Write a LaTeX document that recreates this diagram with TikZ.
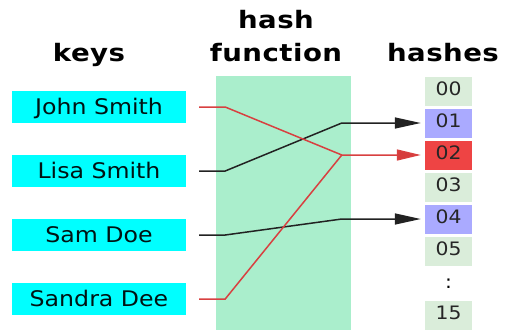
\documentclass[tikz,border=0pt]{standalone}
\usepackage{fontspec}
\setmainfont{DejaVu Sans}
\newfontfamily\headfont[FakeStretch=1.15,LetterSpace=2]{DejaVu Sans Bold}
\newfontfamily\keyfont[FakeStretch=1.1]{DejaVu Sans}
\usetikzlibrary{arrows.meta,calc}
\definecolor{keycyan}{HTML}{00FFFF}
\definecolor{hashgreen}{HTML}{AAEECC}
\definecolor{slotgreen}{HTML}{DAEDDA}
\definecolor{slotblue}{HTML}{AAAAFF}
\definecolor{slotred}{HTML}{EE4444}
\definecolor{linered}{HTML}{D84040}
\definecolor{lineblack}{HTML}{222222}
\begin{document}
\begin{tikzpicture}[x=1pt,y=-1pt,
  heading/.style={font=\headfont\fontsize{24}{28}\selectfont, anchor=base, inner sep=0pt},
  keybox/.style={fill=keycyan, minimum width=174pt, minimum height=32pt, inner sep=0pt,
    font=\keyfont\fontsize{21.5}{24}\selectfont, text height=15.5pt, text depth=0.5pt, text=black!85!teal},
  slot/.style={fill=slotgreen, minimum width=47pt, minimum height=29pt, inner sep=0pt,
    font=\keyfont\fontsize{18.5}{20}\selectfont, text height=13pt, text depth=4pt, text=black!85},
  conn/.style={line width=1.5pt},
  redconn/.style={conn, draw=linered},
  blackconn/.style={conn, draw=lineblack},
  tip/.style={-{Triangle[length=26pt,width=11pt]}}
]
\useasboundingbox (0,0) rectangle (506,330);
\fill[hashgreen] (216,76) rectangle (351,330);

\node[heading] (hkeys) at (89,61) {keys};
\node[heading] (hhash) at (276,28) {hash};
\node[heading] (hfunc) at (276,61) {function};
\node[heading] (hhashes) at (443,61) {hashes};

\node[keybox] (john) at (99,107) {John Smith};
\node[keybox] (lisa) at (99,171) {Lisa Smith};
\node[keybox] (sam) at (99,235) {Sam Doe};
\node[keybox] (sandra) at (99,299) {Sandra Dee};

\node[slot] (h00) at (448.5,91) {00};
\node[slot, fill=slotblue] (h01) at (448.5,123) {01};
\node[slot, fill=slotred] (h02) at (448.5,155) {02};
\node[slot] (h03) at (448.5,187) {03};
\node[slot, fill=slotblue] (h04) at (448.5,219) {04};
\node[slot] (h05) at (448.5,251) {05};
\node[font=\keyfont\fontsize{18.5}{20}\selectfont, inner sep=0pt] (hdots) at (448.5,284) {:};
\node[slot] (h15) at (448.5,315) {15};

\draw[blackconn, tip] ([xshift=13pt]lisa.east) -- ++(26,0) -- ([xshift=-83pt]h01.west) -- ([xshift=-4pt]h01.west);
\draw[blackconn, tip] ([xshift=13pt]sam.east) -- ++(26,0) -- ([xshift=-83pt]h04.west) -- ([xshift=-4pt]h04.west);
\draw[redconn] ([xshift=13pt]sandra.east) -- ++(26,0) -- ([xshift=-83pt]h02.west);
\draw[redconn, -{Triangle[length=24pt,width=11pt,fill=slotred!90!black]}] ([xshift=13pt]john.east) -- ++(26,0) -- ([xshift=-83pt]h02.west) -- ([xshift=-4pt]h02.west);
\end{tikzpicture}
\end{document}
